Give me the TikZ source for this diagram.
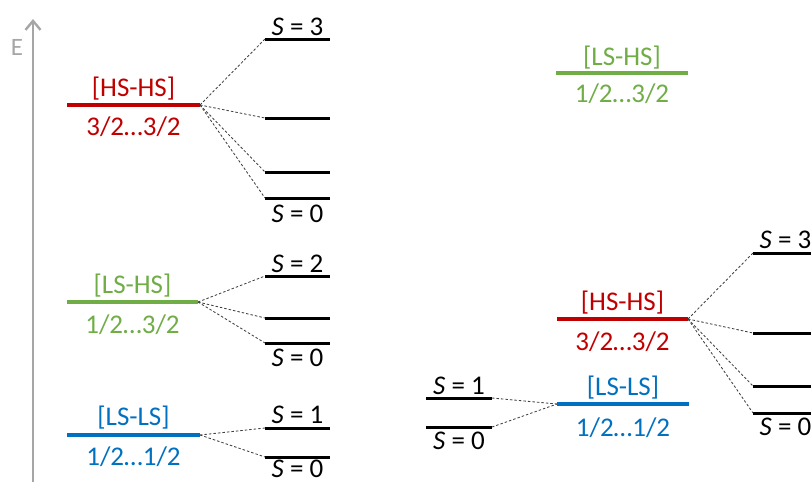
\documentclass[tikz,border=0pt]{standalone}
\usepackage{fontspec}
\setmainfont{Carlito}
\usetikzlibrary{arrows.meta}
\definecolor{cred}{HTML}{C00000}
\definecolor{cgreen}{HTML}{70AD47}
\definecolor{cblue}{HTML}{0070C0}
\definecolor{caxis}{HTML}{A6A6A6}
\begin{document}
\begin{tikzpicture}[x=1pt,y=-1pt,
  lvl/.style={line width=3pt},
  clvl/.style={line width=3.5pt},
  split/.style={draw=black!75,line width=0.85pt,dash pattern=on 2.5pt off 2pt},
  txt/.style={anchor=base,inner sep=0pt,font=\fontsize{27}{32}\selectfont},
]
\useasboundingbox (0,0) rectangle (811,482);
\clip (0,0) rectangle (811,482);
% axis
\coordinate (ax0) at (33,482);
\coordinate (ax1) at (33,19);
\draw[caxis,line width=2.8pt,-{Straight Barb[length=9pt,width=15pt,line width=2.4pt]}] (ax0) -- (ax1);
\node[anchor=base,inner sep=0pt,text=caxis,font=\fontsize{25}{30}\selectfont] (E) at (17,55) {E};

% ===== left: HS-HS =====
\coordinate (hhA) at (67,105); \coordinate (hhB) at (200,105);
\draw[clvl,cred] (hhA) -- (hhB);
\node[txt,text=cred] (hhT) at (133.5,96) {[HS-HS]};
\node[txt,text=cred] (hhS) at (133.5,135) {3/2…3/2};
\coordinate (a3L) at (265,39);  \coordinate (a3R) at (330,39);
\coordinate (a2L) at (265,118); \coordinate (a2R) at (330,118);
\coordinate (a1L) at (265,172); \coordinate (a1R) at (330,172);
\coordinate (a0L) at (265,198); \coordinate (a0R) at (330,198);
\foreach \p in {a3,a2,a1,a0} {\draw[lvl] (\p L) -- (\p R);}
\node[txt] (a3T) at (297.5,35) {\textit{S} = 3};
\node[txt] (a0T) at (297.5,222) {\textit{S} = 0};
\foreach \p in {a3,a2,a1,a0} {\draw[split] (hhB) -- (\p L);}

% ===== left: LS-HS =====
\coordinate (lhA) at (67,302); \coordinate (lhB) at (198,302);
\draw[clvl,cgreen] (lhA) -- (lhB);
\node[txt,text=cgreen] (lhT) at (132.5,293) {[LS-HS]};
\node[txt,text=cgreen] (lhS) at (132.5,333) {1/2…3/2};
\coordinate (b2L) at (265,276); \coordinate (b2R) at (330,276);
\coordinate (b1L) at (265,318); \coordinate (b1R) at (330,318);
\coordinate (b0L) at (265,343); \coordinate (b0R) at (330,343);
\foreach \p in {b2,b1,b0} {\draw[lvl] (\p L) -- (\p R);}
\node[txt] (b2T) at (297.5,272) {\textit{S} = 2};
\node[txt] (b0T) at (297.5,366) {\textit{S} = 0};
\foreach \p in {b2,b1,b0} {\draw[split] (lhB) -- (\p L);}

% ===== left: LS-LS =====
\coordinate (llA) at (67,435); \coordinate (llB) at (200,435);
\draw[clvl,cblue] (llA) -- (llB);
\node[txt,text=cblue] (llT) at (133.5,425) {[LS-LS]};
\node[txt,text=cblue] (llS) at (133.5,465) {1/2…1/2};
\coordinate (c1L) at (265,428); \coordinate (c1R) at (330,428);
\coordinate (c0L) at (265,457); \coordinate (c0R) at (330,457);
\foreach \p in {c1,c0} {\draw[lvl] (\p L) -- (\p R);}
\node[txt] (c1T) at (297.5,423) {\textit{S} = 1};
\node[txt] (c0T) at (297.5,477) {\textit{S} = 0};
\foreach \p in {c1,c0} {\draw[split] (llB) -- (\p L);}

% ===== right: LS-HS =====
\coordinate (rlhA) at (556,73); \coordinate (rlhB) at (688,73);
\draw[clvl,cgreen] (rlhA) -- (rlhB);
\node[txt,text=cgreen] (rlhT) at (622,65) {[LS-HS]};
\node[txt,text=cgreen] (rlhS) at (622,102) {1/2…3/2};

% ===== right: HS-HS =====
\coordinate (rhhA) at (557,319); \coordinate (rhhB) at (688,319);
\draw[clvl,cred] (rhhA) -- (rhhB);
\node[txt,text=cred] (rhhT) at (622.5,310) {[HS-HS]};
\node[txt,text=cred] (rhhS) at (622.5,350) {3/2…3/2};
\coordinate (d3L) at (753,253); \coordinate (d3R) at (818,253);
\coordinate (d2L) at (753,333); \coordinate (d2R) at (818,333);
\coordinate (d1L) at (753,386); \coordinate (d1R) at (818,386);
\coordinate (d0L) at (753,413); \coordinate (d0R) at (818,413);
\foreach \p in {d3,d2,d1,d0} {\draw[lvl] (\p L) -- (\p R);}
\node[txt] (d3T) at (785.5,248) {\textit{S} = 3};
\node[txt] (d0T) at (785.5,435) {\textit{S} = 0};
\foreach \p in {d3,d2,d1,d0} {\draw[split] (rhhB) -- (\p L);}

% ===== right: LS-LS =====
\coordinate (rllA) at (557,404); \coordinate (rllB) at (689,404);
\draw[clvl,cblue] (rllA) -- (rllB);
\node[txt,text=cblue] (rllT) at (623,395) {[LS-LS]};
\node[txt,text=cblue] (rllS) at (623,436) {1/2…1/2};
\coordinate (e1L) at (426,398); \coordinate (e1R) at (492,398);
\coordinate (e0L) at (426,427); \coordinate (e0R) at (492,427);
\foreach \p in {e1,e0} {\draw[lvl] (\p L) -- (\p R);}
\node[txt] (e1T) at (459,394) {\textit{S} = 1};
\node[txt] (e0T) at (459,449) {\textit{S} = 0};
\foreach \p in {e1,e0} {\draw[split] (\p R) -- (rllA);}
\end{tikzpicture}
\end{document}
